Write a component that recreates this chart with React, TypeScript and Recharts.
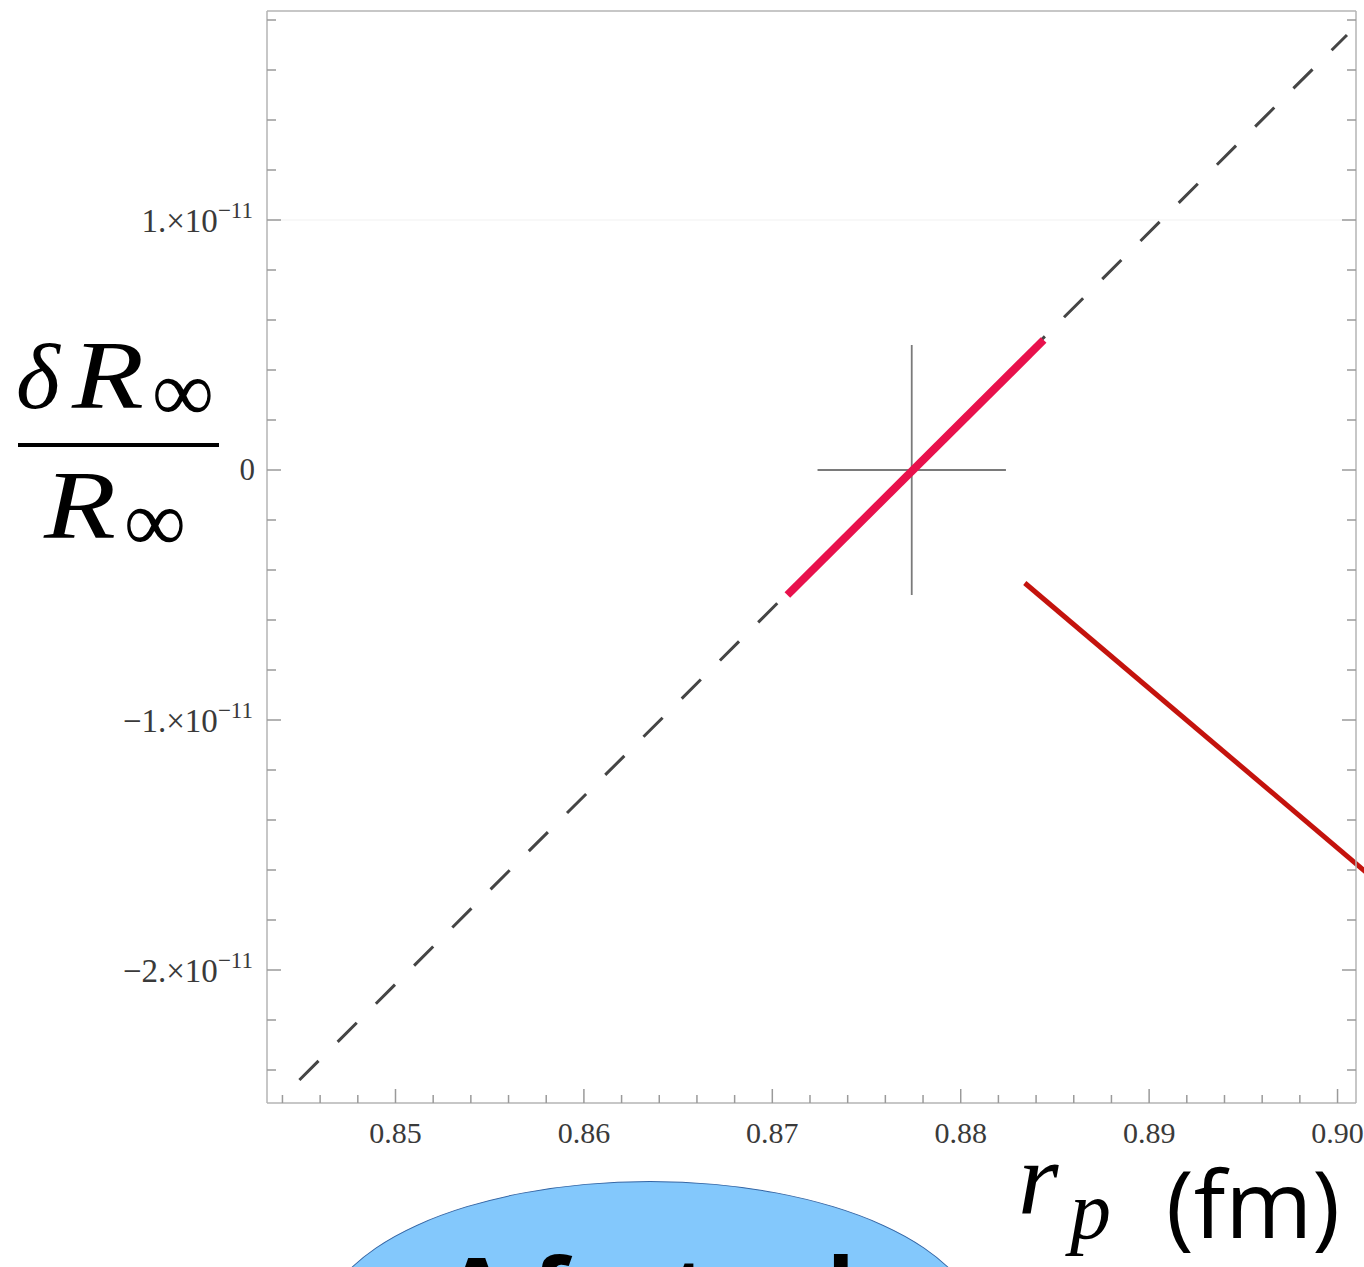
import React from 'react';
import { ComposedChart, Line, Scatter, ErrorBar, XAxis, YAxis, ReferenceLine, Label } from 'recharts';

// axis ranges
const X_MIN = 0.84318;
const X_MAX = 0.90098;
const Y_MIN = -2.532e-11;
const Y_MAX = 1.836e-11;

// tick positions
const xTicks: number[] = [];
for (let i = 0; i <= 28; i++) xTicks.push(+(0.844 + i * 0.002).toFixed(3));
const yTicks: number[] = [];
for (let i = -12; i <= 9; i++) yTicks.push(i * 0.2e-11);

// dashed line (full range)
const lineX = [0.8449, 0.9005];
const lineY = [-2.44e-11, 1.74e-11];

// highlighted red stretch
const redX = [0.8708, 0.8844];
const redY = [-0.5e-11, 0.52e-11];

// central point with its error cross
const centerX = [0.8774];
const centerY = [0];
const errX = [0.005];
const errY = [0.5e-11];

// annotation stroke from the slide
const arrowX = [0.8834, 0.902];
const arrowY = [-0.452e-11, -1.64e-11];

const lineData = lineX.map((x, i) => ({ x, y: lineY[i] }));
const redData = redX.map((x, i) => ({ x, y: redY[i] }));
const centerData = centerX.map((x, i) => ({ x, y: centerY[i], ex: errX[i], ey: errY[i] }));

const FRAME = '#b4b4b4';
const TICK = '#9a9a9a';
const SERIF = '"Liberation Serif", "Times New Roman", serif';

const isMajorX = (v: number) => Math.abs(v * 100 - Math.round(v * 100)) < 1e-6;
const isMajorY = (v: number) => Math.abs(v * 1e11 - Math.round(v * 1e11)) < 1e-6;

const BottomTick = (props: any) => {
    const { x, y, payload } = props;
    const major = isMajorX(payload.value);
    return (
        <g>
            <line x1={x} y1={y} x2={x} y2={y - (major ? 14 : 8)} stroke={TICK} strokeWidth={1.5} />
            {major && (
                <text x={x} y={y + 40} textAnchor="middle" fontFamily={SERIF} fontSize={30} fill="#3a3a3a">
                    {payload.value.toFixed(2)}
                </text>
            )}
        </g>
    );
};

const TopTick = (props: any) => {
    const { x, y, payload } = props;
    const major = isMajorX(payload.value);
    return <line x1={x} y1={y} x2={x} y2={y + (major ? 14 : 8)} stroke={TICK} strokeWidth={1.5} />;
};

const LeftTick = (props: any) => {
    const { x, y, payload } = props;
    const v = payload.value;
    const major = isMajorY(v);
    const k = Math.round(v * 1e11);
    return (
        <g>
            <line x1={x} y1={y} x2={x + (major ? 14 : 9)} y2={y} stroke={TICK} strokeWidth={1.5} />
            {major && k === 0 && (
                <text x={x - 12} y={y + 10} textAnchor="end" fontFamily={SERIF} fontSize={31} fill="#3a3a3a">
                    0
                </text>
            )}
            {major && k !== 0 && (
                <text x={x - 14} y={y + 12} textAnchor="end" fontFamily={SERIF} fontSize={33} fill="#3a3a3a">
                    {(k < 0 ? '\u2212' : '') + Math.abs(k) + '.\u00d710'}
                    <tspan dy={-14} fontSize={23}>{'\u221211'}</tspan>
                </text>
            )}
        </g>
    );
};

const RightTick = (props: any) => {
    const { x, y, payload } = props;
    const major = isMajorY(payload.value);
    return <line x1={x} y1={y} x2={x - (major ? 14 : 9)} y2={y} stroke={TICK} strokeWidth={1.5} />;
};

const YTitle = () => (
    <g fill="#000">
        <text x={16} y={408} fontFamily={SERIF} fontStyle="italic" fontSize={94}>δ</text>
        <text x={72} y={408} fontFamily={SERIF} fontStyle="italic" fontSize={98} textLength={72} lengthAdjust="spacingAndGlyphs">R</text>
        <text x={152} y={421} fontFamily={SERIF} fontSize={88} textLength={62} lengthAdjust="spacingAndGlyphs">∞</text>
        <line x1={18} y1={445} x2={219} y2={445} stroke="#000" strokeWidth={4} />
        <text x={44} y={538} fontFamily={SERIF} fontStyle="italic" fontSize={98} textLength={72} lengthAdjust="spacingAndGlyphs">R</text>
        <text x={124} y={551} fontFamily={SERIF} fontSize={88} textLength={62} lengthAdjust="spacingAndGlyphs">∞</text>
    </g>
);

const XTitle = () => (
    <g fill="#000">
        <text x={1018} y={1214} fontFamily={SERIF} fontStyle="italic" fontSize={104}>r</text>
        <text x={1070} y={1238} fontFamily={SERIF} fontStyle="italic" fontSize={82}>p</text>
        <text x={1166} y={1238} fontFamily='"Open Sans", sans-serif' fontSize={94}>(fm)</text>
    </g>
);

export default function App() {
    return (
        <div style={{ position: 'absolute', left: 0, top: 0, width: 1364, height: 1267, overflow: 'hidden', background: '#fff' }}>
            <ComposedChart width={1364} height={1267} margin={{ top: 0, right: 0, bottom: 0, left: 0 }}>
                <XAxis
                    xAxisId="b"
                    dataKey="x"
                    type="number"
                    domain={[X_MIN, X_MAX]}
                    allowDataOverflow
                    ticks={xTicks}
                    interval={0}
                    tick={<BottomTick />}
                    tickSize={0}
                    tickMargin={0}
                    tickLine={false}
                    axisLine={{ stroke: FRAME, strokeWidth: 1.5 }}
                    height={164}
                >
                    <Label content={() => <XTitle />} />
                </XAxis>
                <XAxis
                    xAxisId="t"
                    orientation="top"
                    type="number"
                    domain={[X_MIN, X_MAX]}
                    allowDataOverflow
                    ticks={xTicks}
                    interval={0}
                    tick={<TopTick />}
                    tickSize={0}
                    tickMargin={0}
                    tickLine={false}
                    axisLine={{ stroke: FRAME, strokeWidth: 1.5 }}
                    height={11}
                />
                <YAxis
                    yAxisId="l"
                    type="number"
                    domain={[Y_MIN, Y_MAX]}
                    allowDataOverflow
                    ticks={yTicks}
                    interval={0}
                    tick={<LeftTick />}
                    tickSize={0}
                    tickMargin={0}
                    tickLine={false}
                    axisLine={{ stroke: FRAME, strokeWidth: 1.5 }}
                    width={267}
                >
                    <Label content={() => <YTitle />} />
                </YAxis>
                <YAxis
                    yAxisId="r"
                    orientation="right"
                    type="number"
                    domain={[Y_MIN, Y_MAX]}
                    allowDataOverflow
                    ticks={yTicks}
                    interval={0}
                    tick={<RightTick />}
                    tickSize={0}
                    tickMargin={0}
                    tickLine={false}
                    axisLine={{ stroke: FRAME, strokeWidth: 1.5 }}
                    width={8}
                />
                <ReferenceLine xAxisId="b" yAxisId="l" y={1e-11} stroke="#f1f1f1" strokeWidth={1} />
                <Line
                    xAxisId="b"
                    yAxisId="l"
                    data={lineData}
                    dataKey="y"
                    stroke="#454545"
                    strokeWidth={3}
                    strokeDasharray="27 27"
                    dot={false}
                    activeDot={false}
                    isAnimationActive={false}
                />
                <Scatter
                    xAxisId="b"
                    yAxisId="l"
                    data={centerData}
                    dataKey="y"
                    shape={() => <g />}
                    isAnimationActive={false}
                >
                    <ErrorBar dataKey="ex" direction="x" width={0} stroke="#7a7a7a" strokeWidth={1.8} />
                    <ErrorBar dataKey="ey" direction="y" width={0} stroke="#7a7a7a" strokeWidth={1.8} />
                </Scatter>
                <Line
                    xAxisId="b"
                    yAxisId="l"
                    data={redData}
                    dataKey="y"
                    stroke="#e8114c"
                    strokeWidth={8}
                    dot={false}
                    activeDot={false}
                    isAnimationActive={false}
                />
                <ReferenceLine
                    xAxisId="b"
                    yAxisId="l"
                    segment={[
                        { x: arrowX[0], y: arrowY[0] },
                        { x: arrowX[1], y: arrowY[1] },
                    ]}
                    ifOverflow="visible"
                    stroke="#c4130d"
                    strokeWidth={5}
                />
            </ComposedChart>
            <div
                style={{
                    position: 'absolute',
                    left: 320,
                    top: 1181,
                    width: 660,
                    height: 300,
                    borderRadius: '50%',
                    background: '#83c8fc',
                    border: '1px solid #3465a4',
                    boxSizing: 'border-box',
                    textAlign: 'center',
                    fontFamily: '"Open Sans", sans-serif',
                    fontWeight: 700,
                    fontSize: 92,
                    lineHeight: '100px',
                    paddingTop: 57,
                    color: '#000',
                }}
            >
                A factual
            </div>
        </div>
    );
}
